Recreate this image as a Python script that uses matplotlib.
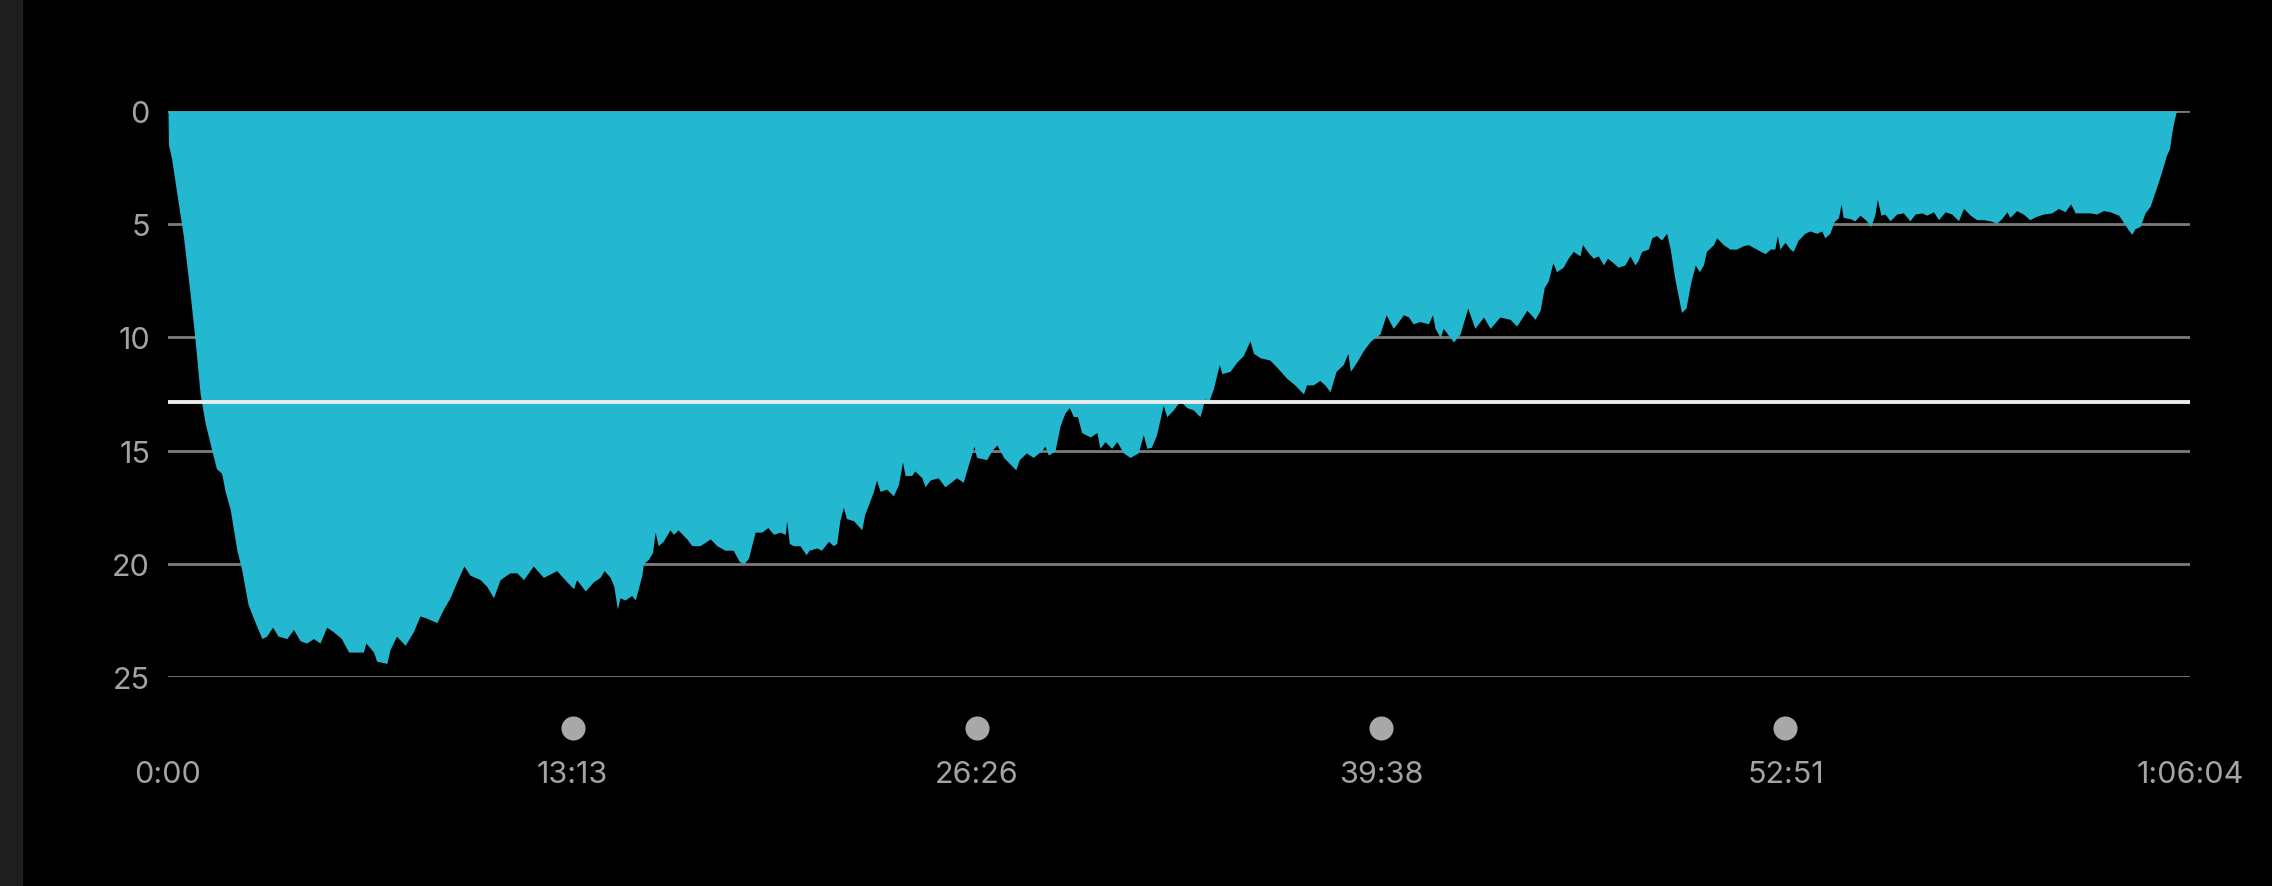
import matplotlib.pyplot as plt
import numpy as np

# dive profile: elapsed seconds and depth (m)
times = [0, 1, 7, 17, 30, 43, 53, 63, 73, 86, 95, 105, 112, 122, 135, 144, 157, 171, 184,
         193, 205, 216, 233, 246, 259, 272, 285, 298, 311, 324, 340, 354, 383, 388, 403, 409,
         429, 435, 448, 465, 481, 494, 507, 527, 540, 553, 566, 580, 592, 612, 625, 638, 651,
         670, 684, 697, 716, 736, 762, 782, 795, 801, 818, 834,
         847, 855, 867, 874, 881, 886, 896, 909, 916, 922, 929, 932, 942, 950, 955, 961, 971,
         984, 991, 1000, 1017, 1027, 1043, 1063, 1076, 1092, 1108, 1120, 1129, 1138, 1151,
         1164, 1176, 1187, 1200, 1210, 1213, 1218, 1226, 1239, 1251, 1257, 1272, 1281, 1295,
         1304, 1311, 1317, 1324, 1330, 1344, 1360, 1366, 1373, 1383, 1389, 1396, 1409, 1422,
         1432, 1440, 1445, 1458, 1464, 1478, 1484, 1494, 1510, 1523, 1546, 1559, 1572, 1580,
         1585, 1605, 1615, 1625, 1638, 1651, 1662, 1669, 1683, 1696, 1713, 1719, 1726, 1739,
         1749, 1758, 1767, 1775, 1783, 1791, 1808, 1821, 1827,
         1837, 1850, 1860, 1873, 1886, 1902, 1912, 1919, 1928, 1938, 1951, 1958, 1971, 1984,
         1997, 2010, 2023, 2033, 2039, 2049, 2061, 2066, 2082, 2095, 2108, 2121, 2128, 2141,
         2160, 2173, 2193, 2209, 2226, 2232, 2245, 2258, 2268, 2278, 2290, 2304, 2313, 2318,
         2330, 2343, 2356, 2366, 2376, 2388, 2402, 2409, 2422, 2432, 2441, 2454, 2471, 2479,
         2484, 2494, 2500, 2510, 2520, 2533, 2548, 2562, 2579, 2592, 2611, 2631, 2644, 2664,
         2680, 2690, 2698, 2706, 2715, 2722, 2735, 2745, 2755, 2768,
         2773, 2784, 2794, 2804, 2814, 2822, 2833, 2843, 2856, 2866, 2876, 2882, 2889, 2902,
         2909, 2918, 2928, 2938, 2945, 2954, 2961, 2967, 2976, 2985, 2994, 3002, 3010, 3016,
         3030, 3036, 3049, 3062, 3075, 3088, 3098, 3114, 3131, 3141, 3150, 3155, 3160, 3170,
         3180, 3186, 3196, 3209, 3219, 3232, 3242, 3248, 3258, 3266, 3275, 3280, 3284, 3297,
         3307, 3317, 3330, 3338, 3346, 3351, 3358, 3366, 3376, 3389, 3402, 3415, 3425, 3438,
         3448, 3461, 3471, 3484, 3497, 3510,
         3520, 3533, 3546, 3559, 3572, 3585, 3595, 3605, 3611, 3624, 3637, 3650, 3663, 3677,
         3693, 3706, 3719, 3730, 3739, 3752, 3768, 3781, 3794, 3807, 3824, 3833, 3843, 3850,
         3856, 3866, 3876, 3886, 3895, 3904, 3912, 3918, 3924, 3928, 3933, 3937, 3938]

depths = [0, 1.5, 2.1, 3.6, 5.5, 8.0, 10.1, 12.5, 13.8, 15.0, 15.8, 16.0, 16.8, 17.6, 19.4, 20.2,
          21.8, 22.6, 23.3, 23.2, 22.8, 23.2, 23.3, 22.9, 23.4, 23.5, 23.3, 23.5, 22.8, 23.0,
          23.3, 23.9, 23.9, 23.5, 23.9, 24.3, 24.4, 23.8, 23.2, 23.6, 23.0, 22.3, 22.4, 22.6,
          22.0, 21.5, 20.8, 20.1, 20.5, 20.7, 21.0, 21.5, 20.7, 20.4, 20.4, 20.7, 20.1, 20.6,
          20.3, 20.8, 21.1, 20.7, 21.2, 20.8,
          20.6, 20.3, 20.6, 21.0, 22.0, 21.5, 21.6, 21.4, 21.6, 21.1, 20.5, 20.0, 19.8, 19.5,
          18.6, 19.2, 19.0, 18.5, 18.7, 18.5, 18.9, 19.2, 19.2, 18.9, 19.2, 19.4, 19.4, 19.9,
          20.0, 19.75, 18.6, 18.6, 18.4, 18.7, 18.6, 18.7, 18.1, 19.1, 19.2, 19.2, 19.6, 19.4,
          19.3, 19.4, 19.0, 19.2, 19.1, 18.1, 17.5, 18.0, 18.1, 18.5, 17.8, 17.4, 16.8, 16.3,
          16.8, 16.7, 17.0, 16.5, 15.5, 16.1, 16.1, 15.9, 16.2, 16.6, 16.3, 16.2, 16.6, 16.2,
          16.4, 15.4, 14.8, 15.3, 15.4, 15.0, 14.75, 15.3, 15.6, 15.85, 15.4, 15.1, 15.3, 15.0,
          14.8, 15.2, 15.0, 13.9, 13.35, 13.1, 13.5, 13.5, 14.2, 14.4, 14.2, 14.9,
          14.6, 14.9, 14.6, 15.1, 15.3, 15.1, 14.3, 14.9, 14.85, 14.3, 13.0, 13.5, 13.2, 12.8,
          13.1, 13.2, 13.5, 12.7, 12.9, 12.3, 11.2, 11.6, 11.5, 11.1, 10.8, 10.15, 10.7, 10.9,
          11.0, 11.3, 11.8, 12.1, 12.5, 12.1, 12.1, 11.9, 12.1, 12.4, 11.5, 11.2, 10.7, 11.5,
          11.1, 10.6, 10.2, 10.0, 9.85, 9.0, 9.6, 9.4, 9.0, 9.1, 9.4, 9.3, 9.4, 9.0,
          9.6, 10.0, 9.6, 9.9, 10.2, 9.85, 8.7, 9.6, 9.1, 9.6, 9.1, 9.2, 9.5, 8.8,
          9.2, 8.8, 7.8, 7.5, 6.7, 7.1, 6.9, 6.5, 6.2, 6.4,
          5.9, 6.25, 6.5, 6.4, 6.8, 6.5, 6.7, 6.9, 6.8, 6.4, 6.8, 6.6, 6.2, 6.1,
          5.6, 5.5, 5.7, 5.4, 6.1, 7.4, 8.2, 8.9, 8.7, 7.6, 6.8, 7.1, 6.8, 6.2,
          5.9, 5.6, 5.9, 6.1, 6.1, 5.95, 5.9, 6.1, 6.3, 6.1, 6.1, 5.5, 6.1, 5.8,
          6.1, 6.2, 5.7, 5.4, 5.3, 5.4, 5.3, 5.6, 5.4, 4.9, 4.7, 4.1, 4.7, 4.75,
          4.85, 4.6, 4.85, 5.1, 4.6, 3.9, 4.6, 4.55, 4.85, 4.55, 4.5, 4.85, 4.55, 4.5,
          4.6, 4.45, 4.8, 4.45, 4.55, 4.85,
          4.3, 4.6, 4.8, 4.8, 4.85, 4.95, 4.75, 4.45, 4.7, 4.4, 4.55, 4.8, 4.65, 4.55,
          4.5, 4.3, 4.45, 4.1, 4.5, 4.5, 4.5, 4.55, 4.4, 4.45, 4.6, 4.9, 5.25, 5.45,
          5.2, 5.1, 4.5, 4.2, 3.6, 3.0, 2.4, 1.95, 1.65, 1.0, 0.4, 0.05, 0.0]

avg_depth = 12.85
dive_length = 3964
tick_seconds = [0, 793, 1586, 2378, 3171, 3964]
tick_labels = ["0:00", "13:13", "26:26", "39:38", "52:51", "1:06:04"]
marker_seconds = [793, 1586, 2378, 3171]
depth_ticks = [0, 5, 10, 15, 20, 25]

text_color = "#a3a3a3"
fill_color = "#24b8d0"

plt.rcParams['font.family'] = ['Inter', 'DejaVu Sans']

fig = plt.figure(figsize=(22.72, 8.87), dpi=100, facecolor="black")
fig.patches.append(plt.Rectangle((0, 0), 22 / 2272, 1, transform=fig.transFigure,
                                 color="#1e1e1e", zorder=0))
ax = fig.add_axes([168 / 2272, 1 - 678 / 887, 2022 / 2272, 566 / 887])
ax.set_facecolor("black")

for d in depth_ticks:
    ax.axhline(d, color="#7c7c7c", lw=2.0, zorder=1)

ax.fill_between(np.array(times), 0, np.array(depths), color=fill_color, lw=0, zorder=2)
ax.axhline(avg_depth, color="#ececec", lw=2.8, zorder=3)

ax.scatter(marker_seconds, [27.25] * len(marker_seconds), s=300, color="#a8a8a8",
           clip_on=False, zorder=4, lw=0)

ax.set_xlim(0, dive_length)
ax.set_ylim(25, 0)
ax.set_yticks(depth_ticks)
ax.set_yticklabels([str(d) for d in depth_ticks])
ax.set_xticks(tick_seconds)
ax.set_xticklabels(tick_labels)
ax.tick_params(axis="y", length=0, pad=13, labelsize=22, labelcolor=text_color)
ax.tick_params(axis="x", length=0, pad=60, labelsize=22, labelcolor=text_color)
for s in ax.spines.values():
    s.set_visible(False)

fig.savefig("out.png", dpi=100, facecolor="black")
